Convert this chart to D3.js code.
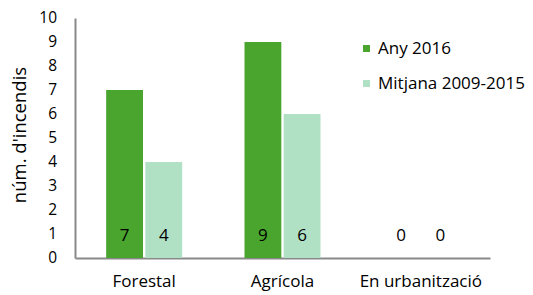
<!DOCTYPE html>
<html>
<head>
<meta charset="utf-8">
<script src="https://cdn.jsdelivr.net/npm/d3@7"></script>
<style>
  body { margin: 0; background: #fff; }
  text { font-family: "Open Sans", "Noto Sans", sans-serif; fill: #000; }
</style>
</head>
<body>
<script>
// chart data
var categories = ["Forestal", "Agrícola", "En urbanització"];
var seriesNames = ["Any 2016", "Mitjana 2009-2015"];
var any2016 = [7, 9, 0];
var mitjana = [4, 6, 0];
var yTicks = [0, 1, 2, 3, 4, 5, 6, 7, 8, 9, 10];
var colors = ["#4aa52e", "#b1e1c5"];

var margin = { top: 18, right: 43, bottom: 37, left: 75 },
  width = 533 - margin.left - margin.right,
  height = 295 - margin.top - margin.bottom;

var svg = d3.select("body")
  .append("svg")
  .attr("width", 533)
  .attr("height", 295)
  .append("g")
  .attr("transform", "translate(" + margin.left + "," + margin.top + ")");

var x = d3.scaleBand()
  .domain(categories)
  .range([0, width]);

var x1 = d3.scaleBand()
  .domain(seriesNames)
  .range([x.bandwidth() / 2 - 38, x.bandwidth() / 2 + 38])
  .paddingInner(0.06);

var y = d3.scaleLinear()
  .domain([0, 10])
  .range([height, 0]);

// y axis
var yAxis = svg.append("g")
  .call(d3.axisLeft(y).tickValues(yTicks).tickSize(0).tickPadding(18));
yAxis.select(".domain").attr("stroke", "#898989").attr("stroke-width", 2);
yAxis.selectAll("text").style("font-size", "15.5px");

// x axis
var xAxis = svg.append("g")
  .attr("transform", "translate(0," + height + ")")
  .call(d3.axisBottom(x).tickSize(0).tickPadding(17));
xAxis.select(".domain").attr("stroke", "#898989").attr("stroke-width", 2);
xAxis.selectAll("text").style("font-size", "17px");

var rows = categories.map(function (c, i) {
  return { cat: c, values: [any2016[i], mitjana[i]] };
});

var groups = svg.selectAll(".grp")
  .data(rows)
  .enter()
  .append("g")
  .attr("transform", function (d) { return "translate(" + x(d.cat) + ",0)"; });

groups.selectAll("rect")
  .data(function (d) { return d.values.map(function (v, j) { return { s: seriesNames[j], v: v, j: j }; }); })
  .enter()
  .append("rect")
  .attr("x", function (d) { return x1(d.s); })
  .attr("y", function (d) { return y(d.v); })
  .attr("width", x1.bandwidth())
  .attr("height", function (d) { return height - y(d.v); })
  .attr("fill", function (d) { return colors[d.j]; });

// value labels near the bottom of the bars
groups.selectAll(".val")
  .data(function (d) { return d.values.map(function (v, j) { return { s: seriesNames[j], v: v }; }); })
  .enter()
  .append("text")
  .attr("x", function (d) { return x1(d.s) + x1.bandwidth() / 2; })
  .attr("y", y(1) + 7)
  .attr("text-anchor", "middle")
  .style("font-size", "17px")
  .text(function (d) { return d.v; });

// y axis title
svg.append("text")
  .attr("transform", "rotate(-90)")
  .attr("x", -height / 2 + 3)
  .attr("y", -49)
  .attr("text-anchor", "middle")
  .style("font-size", "18.5px")
  .text("núm. d'incendis");

// legend
var legend = svg.selectAll(".leg")
  .data(seriesNames)
  .enter()
  .append("g")
  .attr("transform", function (d, i) { return "translate(288," + (27 + i * 35) + ")"; });

legend.append("rect")
  .attr("width", 7)
  .attr("height", 7)
  .attr("fill", function (d, i) { return colors[i]; });

legend.append("text")
  .attr("x", 15)
  .attr("y", 9)
  .style("font-size", "17px")
  .text(function (d) { return d; });
</script>
</body>
</html>
